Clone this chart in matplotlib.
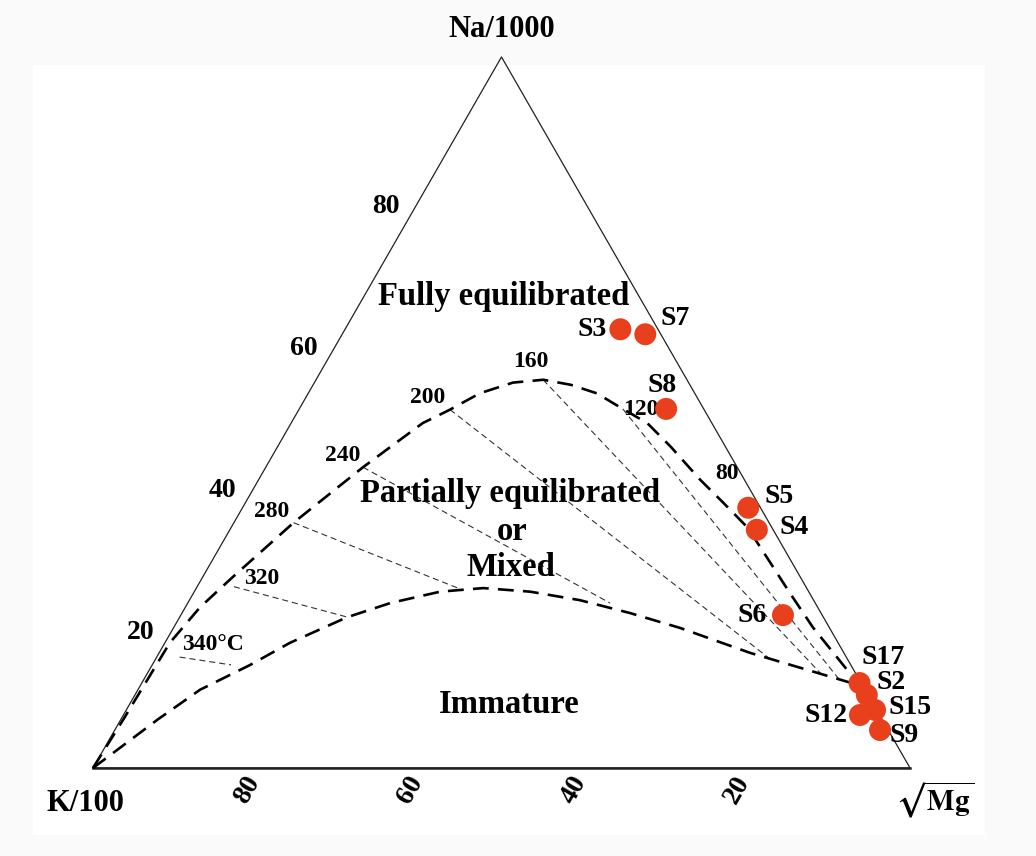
import numpy as np
import matplotlib.pyplot as plt
from matplotlib.patches import Rectangle

plt.rcParams['font.family'] = ['Liberation Serif', 'DejaVu Serif']
plt.rcParams['font.weight'] = 'bold'
plt.rcParams['mathtext.fontset'] = 'stix'

# sample compositions, % of Na/1000 + K/100 + sqrt(Mg)
samples = ['S3', 'S7', 'S8', 'S5', 'S4', 'S6', 'S17', 'S2', 'S15', 'S12', 'S9']
na = [61.7, 61.0, 50.5, 36.6, 33.5, 21.5, 11.95, 10.27, 8.16, 7.45, 5.34]
k = [4.6, 1.9, 4.6, 1.5, 2.0, 4.8, 0.2, 0.15, 0.2, 2.4, 1.0]

# full equilibrium line (Na%, sqrt-Mg%)
full_na = [0, 6.8, 17.6, 22.6, 26.9, 34.5, 42.3, 48.5, 50.4, 52.7, 54.2, 54.6, 53.9,
           52.7, 50.5, 48.5, 45.2, 40.5, 37.3, 33.9, 31.1, 24.6, 19.8, 12.8, 10.3]
full_mg = [0, 0.3, 0.6, 1.8, 3.7, 7.3, 11.9, 16.1, 18.5, 21.0, 24.3, 27.8, 31.5,
           35.3, 39.6, 43.6, 48.1, 54.1, 58.5, 63.1, 66.1, 73.0, 78.2, 86.6, 89.5]

# partial equilibrium line
part_na = [0, 2.1, 6.8, 11.0, 14.5, 17.6, 21.2, 23.2, 24.8, 25.3, 24.8, 23.6,
           21.8, 19.7, 16.2, 14.1, 12.0, 10.7]
part_mg = [0, 1.4, 4.5, 7.6, 12.0, 15.3, 20.5, 24.8, 30.1, 35.1, 41.1, 47.8,
           54.8, 62.0, 72.3, 79.5, 86.7, 89.3]

# K-Na isotherms: start on the full line, run toward the Mg corner
iso_t = [340, 320, 280, 240, 200, 160, 120]
iso_na0 = [15.6, 25.5, 34.5, 42.3, 50.4, 54.6, 50.5]
iso_mg0 = [2.8, 4.5, 7.3, 11.9, 18.5, 27.8, 39.6]
iso_na1 = [14.5, 21.2, 25.0, 23.2, 15.3, 13.1, 12.4]

ticks = [20, 40, 60, 80]


def tern(a, m):
    a = np.asarray(a, dtype=float)
    m = np.asarray(m, dtype=float)
    return m + a / 2, a * np.sqrt(3) / 2


fig = plt.figure(figsize=(10.36, 8.56), dpi=100, facecolor='#fbfafb')
fig.patches.append(Rectangle((0.032, 0.0245), 0.919, 0.8995, transform=fig.transFigure,
                             facecolor='white', edgecolor='none', zorder=-1))
ax = fig.add_axes([0, 0, 1, 1])
ax.set_facecolor('none')
ax.set_xlim(-11.38, 115.42)
ax.set_ylim(-10.72, 93.54)
ax.axis('off')

# triangle frame
tx, ty = tern([0, 0, 100, 0], [0, 100, 0, 0])
ax.plot(tx, ty, color='#222222', lw=0.9, zorder=2)
ax.plot(tx[:2], ty[:2], color='#222222', lw=1.8, zorder=2)

# isotherms
for t, a0, m0, a1 in zip(iso_t, iso_na0, iso_mg0, iso_na1):
    k0 = 100 - a0 - m0
    k1 = a1 * k0 / a0
    xs, ys = tern([a0, a1], [m0, 100 - a1 - k1])
    ax.plot(xs, ys, color='#333333', lw=0.8, ls=(0, (5.5, 3.5)), zorder=3)

# equilibrium lines
fx, fy = tern(full_na, full_mg)
ax.plot(fx, fy, color='black', lw=1.9, ls=(0, (6, 3.5)), zorder=4)
px_, py_ = tern(part_na, part_mg)
ax.plot(px_, py_, color='black', lw=1.9, ls=(0, (6, 3.5)), zorder=4)

# temperature labels
temp_labels = [('340°C', 14.7, 15.1), ('320', 20.7, 23.1), ('280', 21.9, 31.3),
               ('240', 30.6, 38.0), ('200', 41.0, 45.1), ('160', 53.6, 49.5),
               ('120', 67.0, 43.7), ('80', 77.6, 35.9)]
for s, x, y in temp_labels:
    ax.text(x, y, s, fontsize=17, ha='center', va='center', zorder=5)

# samples
mg = [100 - a - b for a, b in zip(na, k)]
sx, sy = tern(na, mg)
ax.scatter(sx, sy, s=250, color='#e8401c', edgecolors='none', zorder=6)

offsets = {'S3': (-10, 0, 'right'), 'S7': (11, 11.5, 'left'), 'S8': (-3, 17, 'center'),
           'S5': (12, 8, 'left'), 'S4': (16, 2, 'left'), 'S6': (-12, 0, 'right'),
           'S17': (1.5, 18.5, 'left'), 'S2': (7, 9, 'left'), 'S15': (9.5, 1.5, 'left'),
           'S12': (-9, -0.5, 'right'), 'S9': (7, -4, 'left')}
for name, x, y in zip(samples, sx, sy):
    dx, dy, ha = offsets[name]
    ax.annotate(name, (x, y), xytext=(dx, dy), textcoords='offset points',
                fontsize=20, ha=ha, va='center', zorder=7)

# axis ticks
for v in ticks:
    lx, ly = tern(v, 0)
    ax.annotate(str(v), (lx, ly), xytext=(-24.5, -5), textcoords='offset points',
                fontsize=20, ha='center', va='center')
    bx, by = tern(0, 100 - v)
    ax.annotate(str(v), (bx, by), xytext=(-6.5, -16), textcoords='offset points',
                fontsize=20, ha='center', va='center', rotation=60)

# corner titles
ax.text(50.06, 89.9, 'Na/1000', fontsize=22, ha='center', va='center')
ax.text(-0.98, -4.3, 'K/100', fontsize=22, ha='center', va='center')
ax.text(103.06, -3.9, r'$\sqrt{\mathbf{Mg}}$', fontsize=21, ha='center', va='center')

# field names
ax.text(50.2, 57.4, 'Fully equilibrated', fontsize=23.5, ha='center', va='center')
ax.text(51.0, 33.4, 'Partially equilibrated', fontsize=23.5, ha='center', va='center')
ax.text(51.3, 28.75, 'or', fontsize=23.5, ha='center', va='center')
ax.text(51.2, 24.4, 'Mixed', fontsize=23.5, ha='center', va='center')
ax.text(51.0, 7.7, 'Immature', fontsize=23.5, ha='center', va='center')

fig.savefig('out.png', dpi=100, facecolor=fig.get_facecolor())
